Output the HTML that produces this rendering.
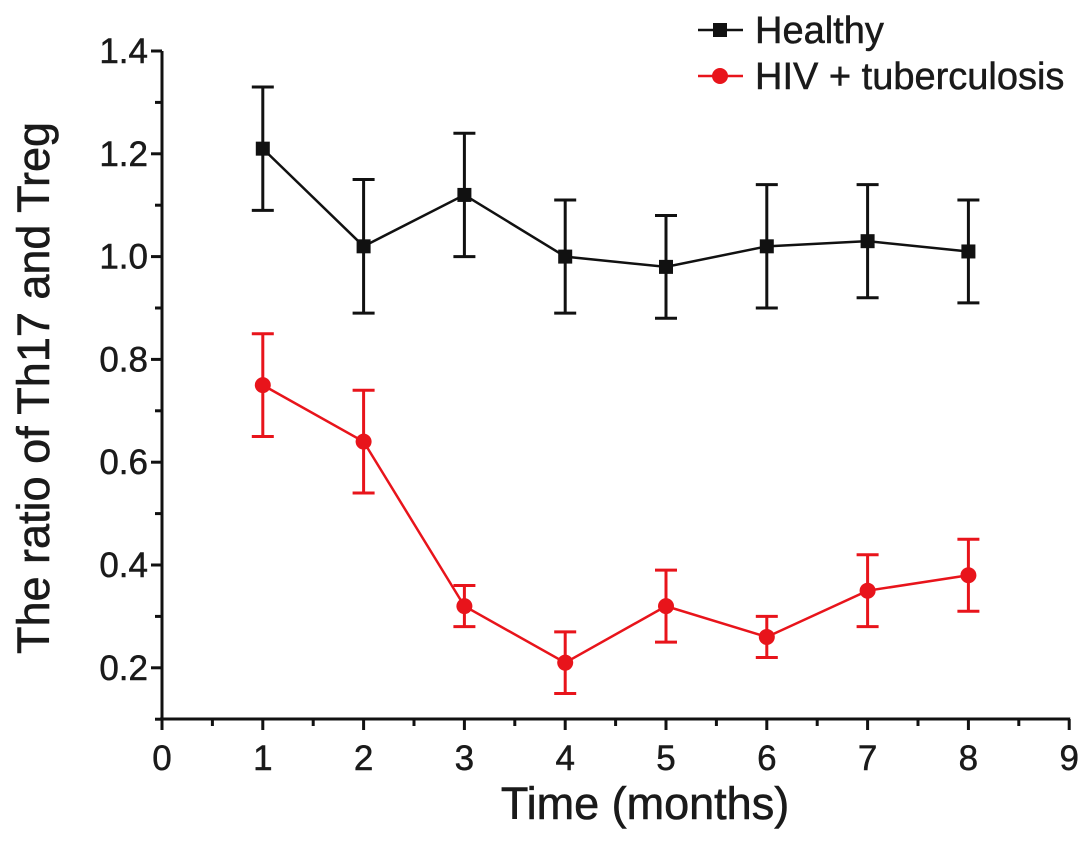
<!DOCTYPE html>
<html><head><meta charset="utf-8"><style>
html,body{margin:0;padding:0;background:#fff}
svg{display:block}
text{font-family:"Liberation Sans",Arial,sans-serif}
</style></head><body>
<svg id="chart" width="1087" height="844" viewBox="0 0 1087 844">
<g id="axes"></g>
<g id="series"></g>
<g id="legend"></g>
<text x="645" y="819" font-size="45" text-anchor="middle" fill="#1a1a1a" stroke="#1a1a1a" stroke-width="0.6">Time (months)</text>
<text transform="translate(49,388) rotate(-90)" font-size="45" text-anchor="middle" fill="#1a1a1a" stroke="#1a1a1a" stroke-width="0.6">The ratio of Th17 and Treg</text>
</svg>
<script>
const months=[1,2,3,4,5,6,7,8];
const healthy=[1.21,1.02,1.12,1.00,0.98,1.02,1.03,1.01];
const healthyErr=[0.12,0.13,0.12,0.11,0.10,0.12,0.11,0.10];
const hiv=[0.75,0.64,0.32,0.21,0.32,0.26,0.35,0.38];
const hivErr=[0.10,0.10,0.04,0.06,0.07,0.04,0.07,0.07];
const xTicks=[0,1,2,3,4,5,6,7,8,9];
const yTicks=[0.2,0.4,0.6,0.8,1.0,1.2,1.4];
const NS="http://www.w3.org/2000/svg";
const X0=162,XU=100.8,YTOP=51,PER=102.8/0.2,YBOT=719;
const xs=v=>X0+v*XU;
const ys=v=>YTOP+(1.4-v)*PER;
function mk(tag,attrs,parent){const e=document.createElementNS(NS,tag);for(const k in attrs)e.setAttribute(k,attrs[k]);parent.appendChild(e);return e;}
const axes=document.getElementById('axes');
let a=mk('line',{x1:X0,y1:YTOP,x2:X0,y2:YBOT,stroke:'#111','stroke-width':3},axes);

a=mk('line',{x1:X0-2,y1:YBOT,x2:xs(9)+1,y2:YBOT,stroke:'#111','stroke-width':3},axes);

xTicks.forEach(t=>{
 const l=mk('line',{x1:xs(t),y1:YBOT,x2:xs(t),y2:YBOT+11,stroke:'#111','stroke-width':3},axes);
 
 if(t<9){const m=mk('line',{x1:xs(t+0.5),y1:YBOT,x2:xs(t+0.5),y2:YBOT+7,stroke:'#111','stroke-width':3},axes);
 }
 const tx=mk('text',{x:xs(t),y:YBOT+51,'font-size':35,'text-anchor':'middle',fill:'#1a1a1a',stroke:'#1a1a1a','stroke-width':0.5},axes);tx.textContent=String(t);
 
});
yTicks.forEach(t=>{
 const l=mk('line',{x1:X0-11,y1:ys(t),x2:X0,y2:ys(t),stroke:'#111','stroke-width':3},axes);
 
 if(t<1.39){const m=mk('line',{x1:X0-7,y1:ys(t+0.1),x2:X0,y2:ys(t+0.1),stroke:'#111','stroke-width':3},axes);
 }
 const tx=mk('text',{x:X0-14,y:ys(t)+12,'font-size':35,'text-anchor':'end',fill:'#1a1a1a',stroke:'#1a1a1a','stroke-width':0.5},axes);tx.textContent=t.toFixed(1);
 
});
const m0=mk('line',{x1:X0-7,y1:ys(0.1),x2:X0,y2:ys(0.1),stroke:'#111','stroke-width':3},axes);

const ser=document.getElementById('series');
function drawSeries(vals,errs,color,shape,name){
 const g=mk('g',{},ser);
 
 const pl=mk('polyline',{points:months.map((m,i)=>xs(m)+','+ys(vals[i])).join(' '),fill:'none',stroke:color,'stroke-width':2.5},g);
 
 months.forEach((m,i)=>{
  const x=xs(m),yt=ys(vals[i]+errs[i]),yb=ys(vals[i]-errs[i]);
  const e=mk('path',{d:`M${x},${yt}V${yb}M${x-11},${yt}H${x+11}M${x-11},${yb}H${x+11}`,stroke:color,'stroke-width':3,fill:'none'},g);
  
  let p;
  if(shape==='square')p=mk('rect',{x:x-7,y:ys(vals[i])-7,width:14,height:14,fill:color},g);
  else p=mk('circle',{cx:x,cy:ys(vals[i]),r:8,fill:color},g);
  
 });
}
drawSeries(healthy,healthyErr,'#111','square','healthy');
drawSeries(hiv,hivErr,'#e8141b','circle','hiv-tb');
const lg=document.getElementById('legend');
[['Healthy','#111','square',30],['HIV + tuberculosis','#e8141b','circle',76]].forEach(([lab,c,s,y])=>{
 const g=mk('g',{},lg);
 
 mk('line',{x1:698,y1:y,x2:743,y2:y,stroke:c,'stroke-width':2.5},g);
 if(s==='square')mk('rect',{x:713,y:y-7,width:14,height:14,fill:c},g);
 else mk('circle',{cx:720,cy:y,r:8,fill:c},g);
 const t=mk('text',{x:755,y:y+13,'font-size':38,fill:'#1a1a1a',stroke:'#1a1a1a','stroke-width':0.5},g);t.textContent=lab;
});
</script>
</body></html>
